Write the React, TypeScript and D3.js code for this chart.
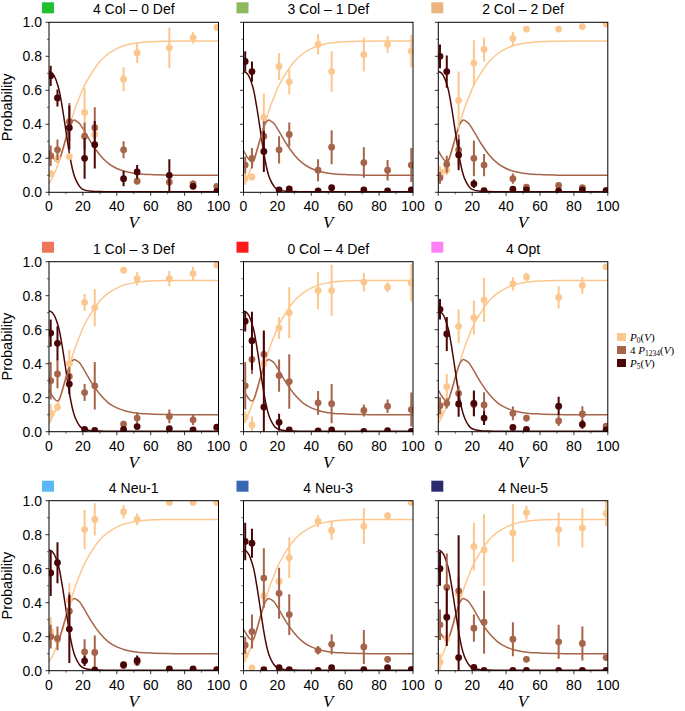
import React from "react";
import * as d3 from "d3";

// Measured bias points shared by every panel
const voltages = [1, 5, 12, 21, 27, 44, 52, 71, 85, 99];

const panelTitles = [
  "4 Col – 0 Def",
  "3 Col – 1 Def",
  "2 Col – 2 Def",
  "1 Col – 3 Def",
  "0 Col – 4 Def",
  "4 Opt",
  "4 Neu-1",
  "4 Neu-3",
  "4 Neu-5",
];

const panelSwatches = [
  "#1fbf30",
  "#8cba5c",
  "#e9b47e",
  "#f0745c",
  "#ff1a1a",
  "#ff80f5",
  "#5ab8f8",
  "#3868b4",
  "#2a2a6e",
];

// P0 estimates per panel and their error half-widths
const p0Mean = [
  [0.11, 0.2, 0.21, 0.47, 0.34, 0.665, 0.82, 0.85, 0.91, 0.97],
  [0.08, 0.09, 0.44, 0.74, 0.65, 0.87, 0.71, 0.81, 0.87, 0.83],
  [0.12, 0.13, 0.54, 0.76, 0.84, 0.905, 0.96, 0.96, 0.975, 0.99],
  [0.11, 0.145, 0.4, 0.76, 0.73, 0.95, 0.9, 0.9, 0.93, 0.98],
  [0.085, 0.04, 0.4, 0.61, 0.7, 0.83, 0.83, 0.88, 0.85, 0.875],
  [0.11, 0.265, 0.62, 0.67, 0.775, 0.87, 0.91, 0.79, 0.86, 0.97],
  [0.23, 0.18, 0.415, 0.83, 0.89, 0.935, 0.89, 0.99, 0.99, 0.99],
  [0.09, 0.016, 0.44, 0.525, 0.665, 0.88, 0.825, 0.85, 0.91, 0.99],
  [0.05, 0.19, 0.45, 0.73, 0.71, 0.81, 0.93, 0.83, 0.84, 0.925],
];
const p0Err = [
  [0.02, 0.03, 0.02, 0.145, 0.02, 0.07, 0.06, 0.12, 0.035, 0.02],
  [0.035, 0.02, 0.14, 0.08, 0.075, 0.06, 0.12, 0.1, 0.05, 0.095],
  [0.035, 0.03, 0.17, 0.135, 0.07, 0.04, 0.015, 0.01, 0.01, 0.01],
  [0.055, 0.025, 0.08, 0.05, 0.11, 0.015, 0.04, 0.045, 0.04, 0.015],
  [0.035, 0.05, 0.065, 0.065, 0.15, 0.11, 0.15, 0.055, 0.03, 0.11],
  [0.035, 0.075, 0.1, 0.1, 0.13, 0.04, 0.025, 0.065, 0.05, 0.015],
  [0.085, 0.04, 0.1, 0.115, 0.095, 0.04, 0.035, 0.005, 0.005, 0.005],
  [0.04, 0.005, 0.04, 0.055, 0.12, 0.035, 0.055, 0.105, 0.025, 0.005],
  [0.05, 0.035, 0.05, 0.14, 0.21, 0.17, 0.04, 0.1, 0.115, 0.075],
];

// 4 P1234 estimates per panel
const p1234Mean = [
  [0.215, 0.25, 0.415, 0.33, 0.38, 0.25, 0.065, 0.06, 0.05, 0.035],
  [0.16, 0.2, 0.33, 0.25, 0.34, 0.13, 0.265, 0.175, 0.13, 0.16],
  [0.085, 0.165, 0.25, 0.2, 0.16, 0.08, 0.03, 0.04, 0.028, 0.01],
  [0.3, 0.34, 0.325, 0.23, 0.27, 0.045, 0.08, 0.09, 0.07, 0.02],
  [0.27, 0.425, 0.455, 0.33, 0.295, 0.17, 0.165, 0.125, 0.15, 0.13],
  [0.153, 0.167, 0.225, 0.16, 0.157, 0.108, 0.08, 0.063, 0.104, 0.033],
  [0.2, 0.19, 0.35, 0.11, 0.107, 0.03, 0.05, 0.005, 0.005, 0.005],
  [0.15, 0.23, 0.545, 0.455, 0.33, 0.12, 0.155, 0.14, 0.067, 0.006],
  [0.27, 0.49, 0.47, 0.25, 0.285, 0.185, 0.067, 0.17, 0.16, 0.077],
];
const p1234Err = [
  [0.06, 0.06, 0.11, 0.08, 0.12, 0.05, 0.01, 0.01, 0.02, 0.01],
  [0.05, 0.06, 0.09, 0.08, 0.07, 0.065, 0.1, 0.09, 0.06, 0.1],
  [0.035, 0.05, 0.09, 0.105, 0.065, 0.03, 0.01, 0.01, 0.01, 0.005],
  [0.11, 0.085, 0.055, 0.05, 0.14, 0.02, 0.035, 0.04, 0.03, 0.01],
  [0.14, 0.085, 0.125, 0.095, 0.16, 0.07, 0.115, 0.035, 0.04, 0.1],
  [0.05, 0.03, 0.045, 0.07, 0.075, 0.04, 0.02, 0.03, 0.045, 0.01],
  [0.07, 0.07, 0.11, 0.075, 0.1, 0.02, 0.02, 0.003, 0.003, 0.003],
  [0.05, 0.1, 0.175, 0.15, 0.12, 0.025, 0.06, 0.1, 0.02, 0.003],
  [0.09, 0.2, 0.08, 0.08, 0.185, 0.1, 0.015, 0.1, 0.1, 0.015],
];

// P5 estimates per panel
const p5Mean = [
  [0.685, 0.555, 0.38, 0.2, 0.28, 0.08, 0.12, 0.1, 0.035, 0.005],
  [0.77, 0.71, 0.24, 0.014, 0.02, 0.008, 0.027, 0.014, 0.008, 0.014],
  [0.8, 0.71, 0.22, 0.05, 0.01, 0.018, 0.014, 0.008, 0.014, 0.01],
  [0.58, 0.52, 0.28, 0.013, 0.008, 0.013, 0.03, 0.018, 0.01, 0.027],
  [0.65, 0.535, 0.145, 0.055, 0.01, 0.004, 0.01, 0.002, 0.006, 0.002],
  [0.72, 0.575, 0.163, 0.167, 0.08, 0.025, 0.014, 0.15, 0.043, 0.01],
  [0.575, 0.635, 0.245, 0.058, 0.005, 0.035, 0.06, 0.01, 0.01, 0.006],
  [0.76, 0.75, 0.006, 0.018, 0.006, 0.002, 0.018, 0.006, 0.018, 0.006],
  [0.6, 0.315, 0.077, 0.02, 0.002, 0.002, 0.002, 0.002, 0.002, 0.002],
];
const p5Err = [
  [0.06, 0.05, 0.13, 0.12, 0.14, 0.045, 0.04, 0.095, 0.015, 0.005],
  [0.06, 0.06, 0.12, 0.005, 0.01, 0.005, 0.015, 0.01, 0.005, 0.01],
  [0.07, 0.095, 0.09, 0.025, 0.005, 0.01, 0.005, 0.005, 0.005, 0.005],
  [0.08, 0.1, 0.06, 0.005, 0.005, 0.005, 0.01, 0.01, 0.005, 0.01],
  [0.06, 0.17, 0.45, 0.05, 0.005, 0.003, 0.005, 0.002, 0.003, 0.002],
  [0.06, 0.1, 0.075, 0.075, 0.04, 0.015, 0.008, 0.055, 0.025, 0.005],
  [0.135, 0.12, 0.2, 0.03, 0.003, 0.015, 0.03, 0.005, 0.005, 0.003],
  [0.11, 0.085, 0.003, 0.005, 0.003, 0.002, 0.005, 0.003, 0.005, 0.003],
  [0.1, 0.17, 0.72, 0.01, 0.002, 0.002, 0.002, 0.002, 0.002, 0.002],
];

// Model curves (same in every panel)
const curveV = [0, 2, 4, 5, 6, 8, 10, 12, 14, 15, 16, 18, 20, 25, 30, 35, 40, 45, 50, 60, 70, 80, 100];
const curveP0 = [0.05, 0.085, 0.13, 0.155, 0.18, 0.24, 0.31, 0.38, 0.45, 0.48, 0.51, 0.56, 0.61, 0.7, 0.77, 0.815, 0.845, 0.865, 0.876, 0.886, 0.889, 0.89, 0.89];
const curveP1234 = [0.245, 0.21, 0.185, 0.18, 0.19, 0.25, 0.32, 0.385, 0.42, 0.425, 0.42, 0.405, 0.375, 0.29, 0.22, 0.17, 0.14, 0.122, 0.112, 0.104, 0.101, 0.1, 0.1];
const curveP5 = [0.71, 0.7, 0.665, 0.635, 0.6, 0.49, 0.36, 0.23, 0.13, 0.095, 0.07, 0.035, 0.017, 0.006, 0.004, 0.003, 0.003, 0.003, 0.003, 0.003, 0.003, 0.003, 0.003];

const xTicks = [0, 20, 40, 60, 80, 100];
const yTicks = [0, 0.2, 0.4, 0.6, 0.8, 1.0];

const seriesColors = ["#fcc78e", "#a6654b", "#4a0606"];
const legendSubscripts = ["0", "1234", "5"];
const legendPrefixes = ["", "4 ", ""];

const WIDTH = 685;
const HEIGHT = 711;
const colX = [49, 243.5, 438.3];
const rowY = [22.3, 261.7, 500.7];
const PW = 169.5;
const PH = 170;
const SANS = "'Liberation Sans', Arial, Helvetica, sans-serif";
const SERIF = "'Liberation Serif', 'DejaVu Serif', serif";

function Panel({ idx }: { idx: number }) {
  const col = idx % 3;
  const row = Math.floor(idx / 3);
  const ox = colX[col];
  const oy = rowY[row];
  const x = d3.scaleLinear().domain([0, 100]).range([0, PW]);
  const y = d3.scaleLinear().domain([0, 1]).range([PH, 0]);
  const clipId = `clip-${idx}`;

  const curves = [curveP0, curveP1234, curveP5];
  const means = [p0Mean[idx], p1234Mean[idx], p5Mean[idx]];
  const errs = [p0Err[idx], p1234Err[idx], p5Err[idx]];

  const line = (vals: number[]) =>
    d3
      .line<number>()
      .x((_, i) => x(curveV[i]))
      .y((d) => y(d))
      .curve(d3.curveMonotoneX)(vals) || "";

  const xMinor = d3.range(10, 100, 20);
  const yMinor = d3.range(0.1, 1, 0.2);

  return (
    <g transform={`translate(${ox},${oy})`}>
      <defs>
        <clipPath id={clipId}>
          <rect x={0} y={0} width={PW} height={PH} />
        </clipPath>
      </defs>
      {/* title with colour swatch */}
      <rect x={-7} y={-20} width={12} height={11} fill={panelSwatches[idx]} />
      <text x={PW / 2} y={-8} textAnchor="middle" fontSize={14} fontFamily={SANS}>
        {panelTitles[idx]}
      </text>

      <g clipPath={`url(#${clipId})`}>
        {curves.map((c, s) => (
          <path key={`c${s}`} d={line(c)} fill="none" stroke={seriesColors[s]} strokeWidth={1.5} />
        ))}
        {means.map((m, s) => (
          <g key={`s${s}`}>
            {m.map((v, i) => {
              const lo = Math.max(0, v - errs[s][i]);
              const hi = Math.min(1, v + errs[s][i]);
              return (
                <g key={i}>
                  <line
                    x1={x(voltages[i])}
                    x2={x(voltages[i])}
                    y1={y(lo)}
                    y2={y(hi)}
                    stroke={seriesColors[s]}
                    strokeWidth={2}
                  />
                  <circle cx={x(voltages[i])} cy={y(v)} r={3.4} fill={seriesColors[s]} />
                </g>
              );
            })}
          </g>
        ))}
      </g>

      {/* frame */}
      <rect x={0} y={0} width={PW} height={PH} fill="none" stroke="#000" strokeWidth={1} />

      {/* x ticks */}
      {xTicks.map((t) => (
        <g key={`xt${t}`}>
          <line x1={x(t)} x2={x(t)} y1={PH} y2={PH + 3.5} stroke="#000" strokeWidth={0.8} />
          <text x={x(t)} y={PH + 19} textAnchor="middle" fontSize={14} fontFamily={SANS}>
            {t}
          </text>
        </g>
      ))}
      {xMinor.map((t) => (
        <line key={`xm${t}`} x1={x(t)} x2={x(t)} y1={PH} y2={PH + 2} stroke="#000" strokeWidth={0.6} />
      ))}
      <text x={PW / 2} y={PH + 36} textAnchor="middle" fontSize={17} fontStyle="italic" fontFamily={SERIF}>
        V
      </text>

      {/* y ticks */}
      {yTicks.map((t) => (
        <g key={`yt${t}`}>
          <line x1={-3.5} x2={0} y1={y(t)} y2={y(t)} stroke="#000" strokeWidth={0.8} />
          {col === 0 && (
            <text x={-7} y={y(t)} dy="0.36em" textAnchor="end" fontSize={14} fontFamily={SANS}>
              {t.toFixed(1)}
            </text>
          )}
        </g>
      ))}
      {yMinor.map((t) => (
        <line key={`ym${t.toFixed(1)}`} x1={-2} x2={0} y1={y(t)} y2={y(t)} stroke="#000" strokeWidth={0.6} />
      ))}
      {col === 0 && (
        <text
          transform={`translate(${-ox + 12},${PH / 2}) rotate(-90)`}
          textAnchor="middle"
          fontSize={14.5}
          fontFamily={SANS}
        >
          Probability
        </text>
      )}
    </g>
  );
}

function Legend() {
  const lx = 617;
  const ly = [337, 350, 363];
  return (
    <g fontFamily={SERIF} fontSize={11}>
      {seriesColors.map((c, i) => (
        <g key={i}>
          <rect x={lx} y={ly[i] - 4} width={9} height={8} fill={c} />
          <text x={lx + 13} y={ly[i] + 4}>
            {legendPrefixes[i] && <tspan>{legendPrefixes[i]}</tspan>}
            <tspan fontStyle="italic">P</tspan>
            <tspan dy={2} fontSize={7.5}>
              {legendSubscripts[i]}
            </tspan>
            <tspan dy={-2}>(</tspan>
            <tspan fontStyle="italic">V</tspan>
            <tspan>)</tspan>
          </text>
        </g>
      ))}
    </g>
  );
}

export default function App() {
  return (
    <svg
      width={WIDTH}
      height={HEIGHT}
      viewBox={`0 0 ${WIDTH} ${HEIGHT}`}
      style={{ position: "absolute", left: 0, top: 0, background: "#fff" }}
    >
      <rect width={WIDTH} height={HEIGHT} fill="#fff" />
      {panelTitles.map((_, i) => (
        <Panel key={i} idx={i} />
      ))}
      <Legend />
    </svg>
  );
}
